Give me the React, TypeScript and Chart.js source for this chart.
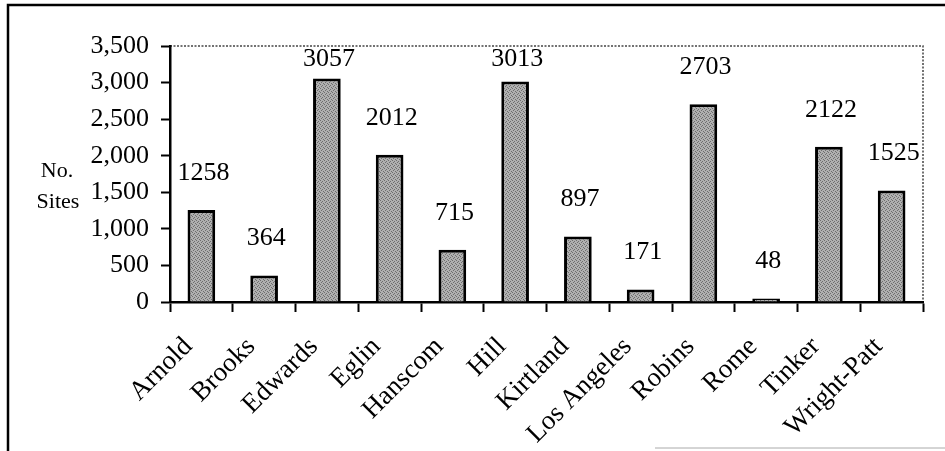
import React, { useEffect, useRef } from "react";
import { Chart, registerables } from "chart.js";

Chart.register(...registerables);

const categories = [
  "Arnold",
  "Brooks",
  "Edwards",
  "Eglin",
  "Hanscom",
  "Hill",
  "Kirtland",
  "Los Angeles",
  "Robins",
  "Rome",
  "Tinker",
  "Wright-Patt",
];
const siteCounts = [1258, 364, 3057, 2012, 715, 3013, 897, 171, 2703, 48, 2122, 1525];
const yTicks = [0, 500, 1000, 1500, 2000, 2500, 3000, 3500];
const yTitleLines = ["No.", "Sites"];

const FONT = "'Liberation Serif', 'Times New Roman', Times, serif";

function makePattern(): CanvasPattern | string {
  const c = document.createElement("canvas");
  c.width = 4;
  c.height = 4;
  const x = c.getContext("2d");
  if (!x) return "#a0a0a0";
  x.fillStyle = "#b0b0b0";
  x.fillRect(0, 0, 4, 4);
  x.fillStyle = "#6e6e6e";
  x.fillRect(0, 0, 1, 1);
  x.fillRect(2, 1, 1, 1);
  x.fillRect(1, 2, 1, 1);
  x.fillRect(3, 3, 1, 1);
  const p = x.createPattern(c, "repeat");
  return p || "#a0a0a0";
}

const decorPlugin = {
  id: "decor",
  beforeDraw(chart: any) {
    const { ctx, chartArea } = chart;
    ctx.save();
    ctx.fillStyle = "#ffffff";
    ctx.fillRect(0, 0, chart.width, chart.height);
    // outer frame (top and left)
    ctx.strokeStyle = "#000";
    ctx.lineWidth = 2.5;
    ctx.beginPath();
    ctx.moveTo(8, chart.height);
    ctx.lineTo(8, 5);
    ctx.lineTo(chart.width, 5);
    ctx.stroke();
    // faint bottom line
    ctx.strokeStyle = "#aaa";
    ctx.lineWidth = 1;
    ctx.beginPath();
    ctx.moveTo(655, chart.height - 3);
    ctx.lineTo(chart.width, chart.height - 3);
    ctx.stroke();
    // dotted plot border top & right
    ctx.strokeStyle = "#444";
    ctx.lineWidth = 1.5;
    ctx.setLineDash([2, 1.5]);
    ctx.beginPath();
    ctx.moveTo(chartArea.left, chartArea.top);
    ctx.lineTo(chartArea.right, chartArea.top);
    ctx.lineTo(chartArea.right, chartArea.bottom);
    ctx.stroke();
    ctx.setLineDash([]);
    // y title
    ctx.fillStyle = "#000";
    ctx.font = `22px ${FONT}`;
    ctx.textAlign = "center";
    ctx.textBaseline = "alphabetic";
    const mid = (chartArea.top + chartArea.bottom) / 2;
    ctx.fillText(yTitleLines[0], 57, mid + 3);
    ctx.fillText(yTitleLines[1], 58, mid + 34);
    ctx.restore();
  },
  afterDatasetsDraw(chart: any) {
    const { ctx, chartArea } = chart;
    const meta = chart.getDatasetMeta(0);
    const data = chart.data.datasets[0].data as number[];
    ctx.save();
    ctx.fillStyle = "#000";
    ctx.font = `26px ${FONT}`;
    ctx.textAlign = "center";
    ctx.textBaseline = "middle";
    meta.data.forEach((bar: any, i: number) => {
      const y = Math.max(bar.y - 37, chartArea.top + 13);
      ctx.fillText(String(data[i]), bar.x + 2, y);
    });
    ctx.restore();
  },
};

export default function App() {
  const ref = useRef<HTMLCanvasElement | null>(null);

  useEffect(() => {
    if (!ref.current) return;
    const chart = new Chart(ref.current, {
      type: "bar",
      data: {
        labels: categories,
        datasets: [
          {
            data: siteCounts,
            backgroundColor: makePattern() as any,
            borderColor: "#000",
            borderWidth: 3,
            barPercentage: 0.9,
            categoryPercentage: 0.49,
          },
        ],
      },
      options: {
        responsive: false,
        animation: false,
        layout: { padding: { top: 46, right: 22, left: 0, bottom: 0 } },
        plugins: {
          legend: { display: false },
          tooltip: { enabled: false },
          title: { display: false },
        },
        scales: {
          x: {
            type: "category",
            offset: true,
            afterFit(s: any) {
              s.height = 149;
            },
            grid: {
              offset: true,
              drawOnChartArea: false,
              drawTicks: true,
              tickLength: 10,
              tickWidth: 2,
              tickColor: "#000",
              color: "#000",
            },
            border: { display: true, color: "#000", width: 2.5 },
            ticks: {
              autoSkip: false,
              minRotation: 45,
              maxRotation: 45,
              padding: 19,
              labelOffset: -13,
              color: "#000",
              font: { family: FONT, size: 27 },
            },
          },
          y: {
            min: yTicks[0],
            max: yTicks[yTicks.length - 1],
            afterFit(s: any) {
              s.width = 170;
            },
            afterBuildTicks(s: any) {
              s.ticks = yTicks.map((v) => ({ value: v }));
            },
            grid: {
              drawOnChartArea: false,
              drawTicks: true,
              tickLength: 9,
              tickWidth: 2,
              tickColor: "#000",
              color: "#000",
            },
            border: { display: true, color: "#000", width: 2.5 },
            ticks: {
              padding: 12,
              color: "#000",
              font: { family: FONT, size: 26 },
              callback: (v: any) => Number(v).toLocaleString("en-US"),
            },
          },
        },
      },
      plugins: [decorPlugin],
    });
    return () => chart.destroy();
  }, []);

  return (
    <div style={{ position: "absolute", left: 0, top: 0, width: 945, height: 451, background: "#fff" }}>
      <canvas ref={ref} width={945} height={451} />
    </div>
  );
}
